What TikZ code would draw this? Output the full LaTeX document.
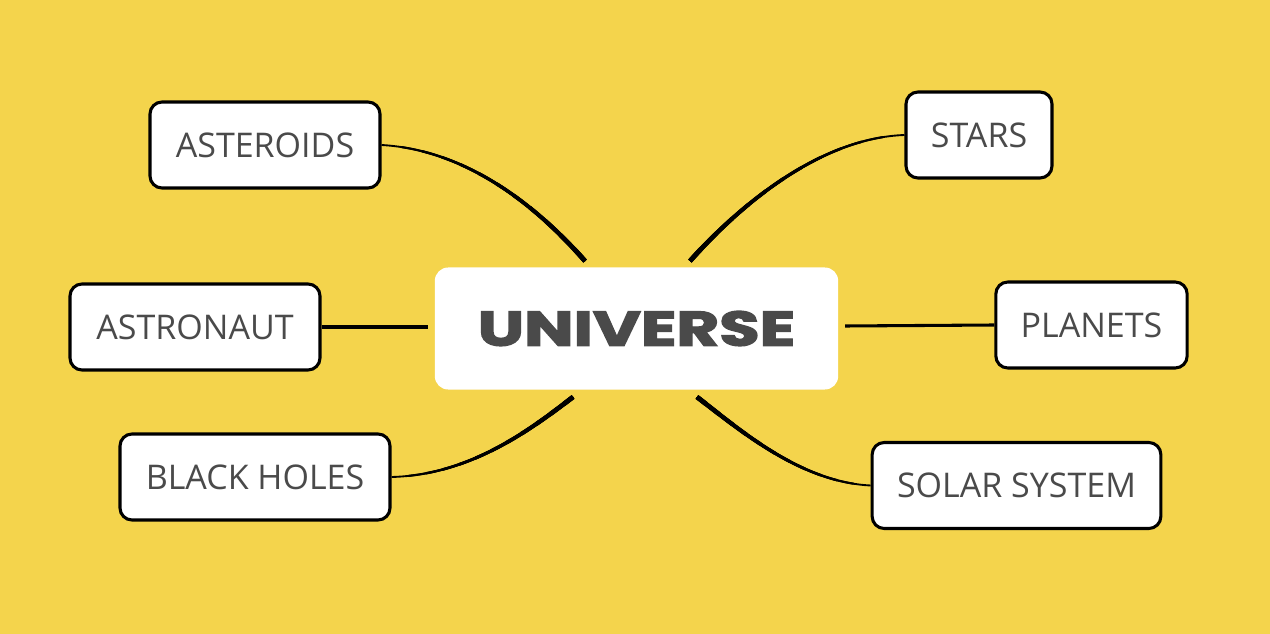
\documentclass[tikz,border=0pt]{standalone}
\usepackage{fontspec}
\setmainfont{Open Sans}
\newfontfamily\titlefont{Poppins}[BoldFeatures={FakeBold=2.5}]
\definecolor{bgyellow}{HTML}{F4D44C}
\definecolor{txtgray}{HTML}{4A4A4A}
\newcommand\taperdraw[2]{%
  \foreach \k in {0,...,11}{%
    \pgfmathsetmacro\offlen{#2*\k/12}%
    \pgfmathsetmacro\lw{1.4+\k*0.2}%
    \draw[draw=black, line cap=butt, line width=\lw pt,
      dash pattern=on 0pt off \offlen pt on 3000pt] #1;
  }%
}
\begin{document}
\begin{tikzpicture}[x=0.75pt,y=-0.75pt,
  leaf/.style={draw=black, line width=2.3pt, fill=white, rounded corners=9pt,
    inner sep=0pt, text=txtgray, font=\fontsize{25.5}{30}\selectfont},
  hub/.style={fill=white, rounded corners=10pt, inner sep=0pt,
    minimum width=302.5pt, minimum height=91.5pt},
  link/.style={draw=black, line width=2.3pt}]
\fill[bgyellow] (0,0) rectangle (1270,634);
\useasboundingbox (0,0) rectangle (1270,634);

\node[hub] (uni) at (636.5,328.5)
  {\textcolor{txtgray}{\resizebox{238pt}{26pt}{\titlefont\bfseries UNIVERSE}}};

\node[leaf, minimum width=172.5pt, minimum height=64.5pt] (ast) at (265,145) {ASTEROIDS};
\node[leaf, minimum width=109.5pt, minimum height=64.5pt] (sta) at (979,135) {STARS};
\node[leaf, minimum width=187.5pt, minimum height=64.5pt] (asn) at (195,327) {ASTRONAUT};
\node[leaf, minimum width=143.5pt, minimum height=64.5pt] (pla) at (1091.5,325) {PLANETS};
\node[leaf, minimum width=202.5pt, minimum height=64.5pt] (blh) at (255,477) {BLACK HOLES};
\node[leaf, minimum width=216.5pt, minimum height=64.5pt] (sol) at (1016.5,485.5) {SOLAR SYSTEM};

\coordinate (e1) at (585,261);
\coordinate (e2) at (690,261);
\coordinate (e3) at (428,327);
\coordinate (e4) at (845,326);
\coordinate (e5) at (573,397);
\coordinate (e6) at (697,397);

\taperdraw{(ast.east) .. controls (470,150) and (540,210) .. (e1)}{184}
\taperdraw{(sta.west) .. controls (820,138) and (740,205) .. (e2)}{195}
\draw[link] (asn.east) -- (e3);
\draw[link] (pla.west) -- (e4);
\taperdraw{(blh.east) .. controls (470,475) and (530,430) .. (e5)}{156}
\taperdraw{(sol.west) .. controls (800,482) and (740,430) .. (e6)}{153}
\end{tikzpicture}
\end{document}
